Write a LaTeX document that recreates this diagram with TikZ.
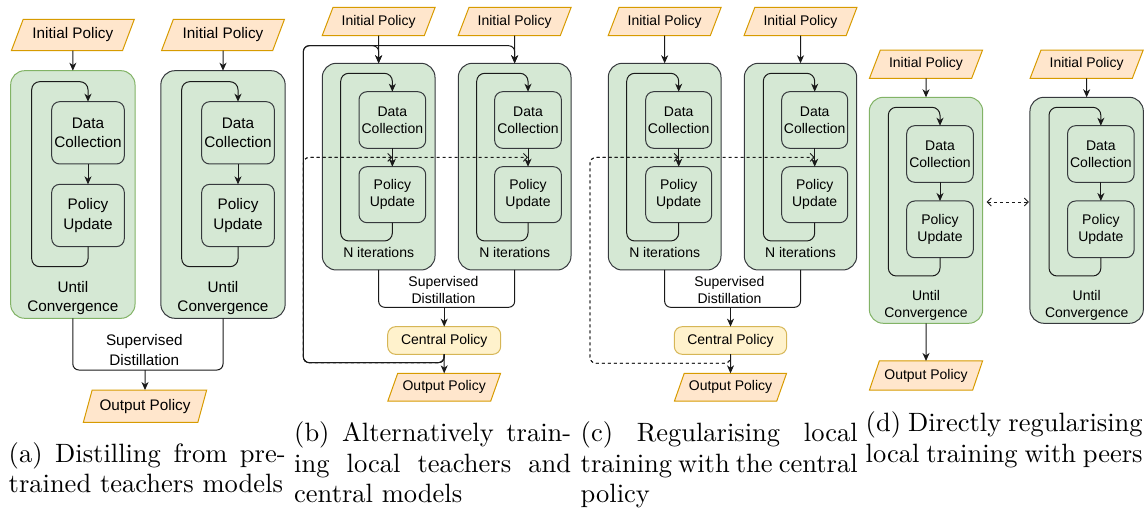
\documentclass[tikz,border=0pt]{standalone}
\usepackage{fontspec}
\newfontfamily\dfont{Liberation Sans}
\newfontfamily\capfont{lmroman10-regular.otf}
\usetikzlibrary{arrows.meta,calc,shapes.geometric}
\definecolor{ofill}{HTML}{FFE6CC}
\definecolor{oline}{HTML}{D79B00}
\definecolor{gfill}{HTML}{D5E8D4}
\definecolor{gline}{HTML}{82B366}
\definecolor{dline}{HTML}{36393D}
\definecolor{cfill}{HTML}{FFF2CC}
\definecolor{cline}{HTML}{D6B656}
\definecolor{eline}{HTML}{1A1A1A}
\tikzset{
  fa/.style={font=\dfont\fontsize{15.3}{19.3}\selectfont},
  fb/.style={font=\dfont\fontsize{14}{16.8}\selectfont},
  para/.style={shape=trapezium, trapezium left angle=56, trapezium right angle=124,
    trapezium stretches=true, draw=oline, fill=ofill, line width=1pt, inner sep=0pt, outer sep=0pt},
  outerl/.style={draw=gline, fill=gfill, line width=1pt, rounded corners=14pt, inner sep=0pt, outer sep=0pt},
  outerd/.style={draw=dline, fill=gfill, line width=1pt, rounded corners=14pt, inner sep=0pt, outer sep=0pt},
  inbox/.style={draw=dline, fill=gfill, line width=1pt, rounded corners=8pt, align=center, inner sep=0pt, outer sep=0pt},
  centralbox/.style={draw=cline, fill=cfill, line width=1pt, rounded corners=8pt, inner sep=0pt, outer sep=0pt},
  lbl/.style={align=center, inner sep=0pt},
  arr/.style={draw=eline, line width=1pt, -{Stealth[length=8pt,width=7pt,inset=2.4pt]}},
  ln/.style={draw=eline, line width=1pt},
  darr/.style={draw=eline, line width=0.9pt, dash pattern=on 3pt off 3pt, -{Straight Barb[length=4pt,width=8pt]}},
  dbarr/.style={draw=eline, line width=0.9pt, dash pattern=on 3pt off 3pt, {Straight Barb[length=4pt,width=8pt]}-{Straight Barb[length=4pt,width=8pt]}},
  captxt/.style={anchor=base west, text width=277pt, align=justify, inner sep=0pt, font=\capfont\fontsize{26.5}{30.5}\selectfont},
}
\begin{document}
\begin{tikzpicture}[x=1pt,y=-1pt]
\useasboundingbox (0,0) rectangle (1148,510);

%% ---------------- Panel (a)
\node[para, fa, minimum width=124.3, minimum height=31.4] (ipa1) at (72.85,35) {Initial Policy};
\node[para, fa, minimum width=124.3, minimum height=31.4] (ipa2) at (223,35) {Initial Policy};
\node[outerl, minimum width=124.3, minimum height=247.6] (bxa1) at (72.85,194.5) {};
\node[outerd, minimum width=124.3, minimum height=247.6] (bxa2) at (223,194.5) {};
\draw[arr] (ipa1.south) -- (bxa1.north);
\draw[arr] (ipa2.south) -- (bxa2.north);
\node[inbox, fa, minimum width=72.6, minimum height=62.3] (dca1) at (88,132.85) {Data\\Collection};
\node[inbox, fa, minimum width=72.6, minimum height=62.3] (pua1) at (88,215.5) {Policy\\Update};
\node[inbox, fa, minimum width=72.6, minimum height=62.3] (dca2) at (238,132.85) {Data\\Collection};
\node[inbox, fa, minimum width=72.6, minimum height=62.3] (pua2) at (238,215.5) {Policy\\Update};
\draw[arr] (dca1.south) -- (pua1.north);
\draw[arr] (dca2.south) -- (pua2.north);
\draw[arr, rounded corners=8pt] (pua1.south) |- (31.7,266.7) -- (31.7,81.7) -| (dca1.north);
\draw[arr, rounded corners=8pt] (pua2.south) |- (181.7,266.7) -- (181.7,81.7) -| (dca2.north);
\node[lbl, fa] (uca1) at (72.85,298) {Until\\Convergence};
\node[lbl, fa] (uca2) at (223,298) {Until\\Convergence};
\node[para, fa, trapezium left angle=62, trapezium right angle=118, minimum width=123.4, minimum height=32.3] (opa) at (145,406.2) {Output Policy};
\coordinate (ja) at (145,370);
\draw[ln, rounded corners=6pt] (bxa1.south) |- (ja) -| (bxa2.south);
\node[lbl, fa] (sda) at (144.3,350) {Supervised\\Distillation};
\draw[arr] (ja) -- (opa.north);

%% ---------------- Panel (b)
\node[para, fb, minimum width=113.3, minimum height=28.4] (ipb1) at (378.65,21.5) {Initial Policy};
\node[para, fb, minimum width=113.3, minimum height=28.4] (ipb2) at (514.65,21.5) {Initial Policy};
\node[outerd, minimum width=112.7, minimum height=206.7] (bxb1) at (378.65,166.65) {};
\node[outerd, minimum width=112.7, minimum height=206.7] (bxb2) at (514.65,166.65) {};
\node[inbox, fb, minimum width=66.7, minimum height=56.6] (dcb1) at (392.35,120) {Data\\Collection};
\node[inbox, fb, minimum width=66.7, minimum height=56] (pub1) at (392.35,194.7) {Policy\\Update};
\node[inbox, fb, minimum width=66.7, minimum height=56.6] (dcb2) at (528,120) {Data\\Collection};
\node[inbox, fb, minimum width=66.7, minimum height=56] (pub2) at (528,194.7) {Policy\\Update};
\draw[arr] (dcb1.south) -- (pub1.north);
\draw[arr] (dcb2.south) -- (pub2.north);
\draw[arr, rounded corners=8pt] (pub1.south) |- (340.7,241) -- (340.7,73.3) -| (dcb1.north);
\draw[arr, rounded corners=8pt] (pub2.south) |- (476.7,241) -- (476.7,73.3) -| (dcb2.north);
\node[lbl, fb] (nib1) at (378.65,252) {N iterations};
\node[lbl, fb] (nib2) at (514.65,252) {N iterations};
\coordinate (jb) at (444.2,307.3);
\draw[ln, rounded corners=6pt] (bxb1.south) |- (jb) -| (bxb2.south);
\node[lbl, fb] (sdb) at (443.5,290) {Supervised\\Distillation};
\node[centralbox, fb, minimum width=113, minimum height=27.7] (cpb) at (444.2,340.5) {Central Policy};
\node[para, fb, minimum width=113, minimum height=27.7] (opb) at (444.2,387.2) {Output Policy};
\draw[arr] (jb) -- (cpb.north);
\coordinate (lb1) at (303.3,362.7);
\coordinate (lb2) at (303.3,45.7);
\coordinate (lb3) at (303.3,157.4);
\coordinate (db1) at (392.35,157.4);
\coordinate (db2) at (528,157.4);
\draw[arr, rounded corners=6pt] (cpb.south) |- (lb1) -- (lb2) -| (bxb2.north);
\draw[arr, rounded corners=6pt] (cpb.south) |- (lb1) -- (lb2) -| (bxb1.north);
\draw[arr] (ipb1.south) -- (bxb1.north);
\draw[arr] (ipb2.south) -- (bxb2.north);
\draw[arr] (cpb.south) -- (opb.north);
\draw[darr, rounded corners=6pt] (cpb.south) |- (lb1) -- (lb3) -- (db1);
\draw[darr, rounded corners=6pt] (cpb.south) |- (lb1) -- (lb3) -- (db2);

%% ---------------- Panel (c)
\node[para, fb, minimum width=113.3, minimum height=28.4] (ipc1) at (664.65,21.5) {Initial Policy};
\node[para, fb, minimum width=113.3, minimum height=28.4] (ipc2) at (800.5,21.5) {Initial Policy};
\node[outerd, minimum width=112.7, minimum height=206.7] (bxc1) at (664.65,166.65) {};
\node[outerd, minimum width=112.4, minimum height=206.7] (bxc2) at (800.5,166.65) {};
\draw[arr] (ipc1.south) -- (bxc1.north);
\draw[arr] (ipc2.south) -- (bxc2.north);
\node[inbox, fb, minimum width=66, minimum height=56.6] (dcc1) at (678.7,120) {Data\\Collection};
\node[inbox, fb, minimum width=66, minimum height=56] (puc1) at (678.7,194.7) {Policy\\Update};
\node[inbox, fb, minimum width=66, minimum height=56.6] (dcc2) at (814.7,120) {Data\\Collection};
\node[inbox, fb, minimum width=66, minimum height=56] (puc2) at (814.7,194.7) {Policy\\Update};
\draw[arr] (dcc1.south) -- (puc1.north);
\draw[arr] (dcc2.south) -- (puc2.north);
\draw[arr, rounded corners=8pt] (puc1.south) |- (626.7,241) -- (626.7,73.3) -| (dcc1.north);
\draw[arr, rounded corners=8pt] (puc2.south) |- (763.3,241) -- (763.3,73.3) -| (dcc2.north);
\node[lbl, fb] (nic1) at (664.65,252) {N iterations};
\node[lbl, fb] (nic2) at (800.5,252) {N iterations};
\coordinate (jc) at (730.5,307.3);
\draw[ln, rounded corners=6pt] (bxc1.south) |- (jc) -| (bxc2.south);
\node[lbl, fb] (sdc) at (729.5,290) {Supervised\\Distillation};
\node[centralbox, fb, minimum width=112.4, minimum height=27.7] (cpc) at (730.5,340.5) {Central Policy};
\node[para, fb, minimum width=112.4, minimum height=27.7] (opc) at (730.5,387.2) {Output Policy};
\draw[arr] (jc) -- (cpc.north);
\draw[arr] (cpc.south) -- (opc.north);
\coordinate (lc1) at (590,363.3);
\coordinate (lc2) at (590,157.4);
\coordinate (dc1) at (678.7,157.4);
\coordinate (dc2) at (814.7,157.4);
\draw[darr, rounded corners=6pt] (cpc.south) |- (lc1) -- (lc2) -- (dc1);
\draw[darr, rounded corners=6pt] (cpc.south) |- (lc1) -- (lc2) -- (dc2);

%% ---------------- Panel (d)
\node[para, fb, minimum width=113.4, minimum height=28.3] (ipd1) at (926,64.2) {Initial Policy};
\node[para, fb, minimum width=113.4, minimum height=28.3] (ipd2) at (1086.65,64.2) {Initial Policy};
\node[outerl, minimum width=113.4, minimum height=226] (bxd1) at (926,210.3) {};
\node[outerd, minimum width=113.4, minimum height=226] (bxd2) at (1086.65,210.3) {};
\draw[arr] (ipd1.south) -- (bxd1.north);
\draw[arr] (ipd2.south) -- (bxd2.north);
\node[inbox, fb, minimum width=66.6, minimum height=56.6] (dcd1) at (940,154) {Data\\Collection};
\node[inbox, fb, minimum width=66.6, minimum height=56.7] (pud1) at (940,229.35) {Policy\\Update};
\node[inbox, fb, minimum width=66.6, minimum height=56.6] (dcd2) at (1100.85,154) {Data\\Collection};
\node[inbox, fb, minimum width=66.6, minimum height=56.7] (pud2) at (1100.85,229.35) {Policy\\Update};
\draw[arr] (dcd1.south) -- (pud1.north);
\draw[arr] (dcd2.south) -- (pud2.north);
\draw[arr, rounded corners=8pt] (pud1.south) |- (888.3,276) -- (888.3,107.3) -| (dcd1.north);
\draw[arr, rounded corners=8pt] (pud2.south) |- (1049,276) -- (1049,107.3) -| (dcd2.north);
\node[lbl, fb] (ucd1) at (926,305.3) {Until\\Convergence};
\node[lbl, fb] (ucd2) at (1086.65,305.3) {Until\\Convergence};
\node[para, fb, minimum width=113.4, minimum height=29] (opd) at (926,375.5) {Output Policy};
\draw[arr] (bxd1.south) -- (opd.north);
\draw[dbarr] ($(bxd1.east)+(4,-8.3)$) -- ($(bxd2.west)+(-1,-8.3)$);

%% ---------------- Captions
\node[captxt] (capa) at (8.5,462) {(a) Distilling from pre-\linebreak trained teachers models};
\node[captxt] (capb) at (294,441.7) {(b) Alternatively train-\linebreak ing local teachers and\linebreak central models};
\node[captxt] (capc) at (580.5,441.7) {(c) Regularising local\linebreak training with the central\linebreak policy};
\node[captxt] (capd) at (865.5,431.5) {(d) Directly regularising\linebreak local training with peers};
\end{tikzpicture}
\end{document}
